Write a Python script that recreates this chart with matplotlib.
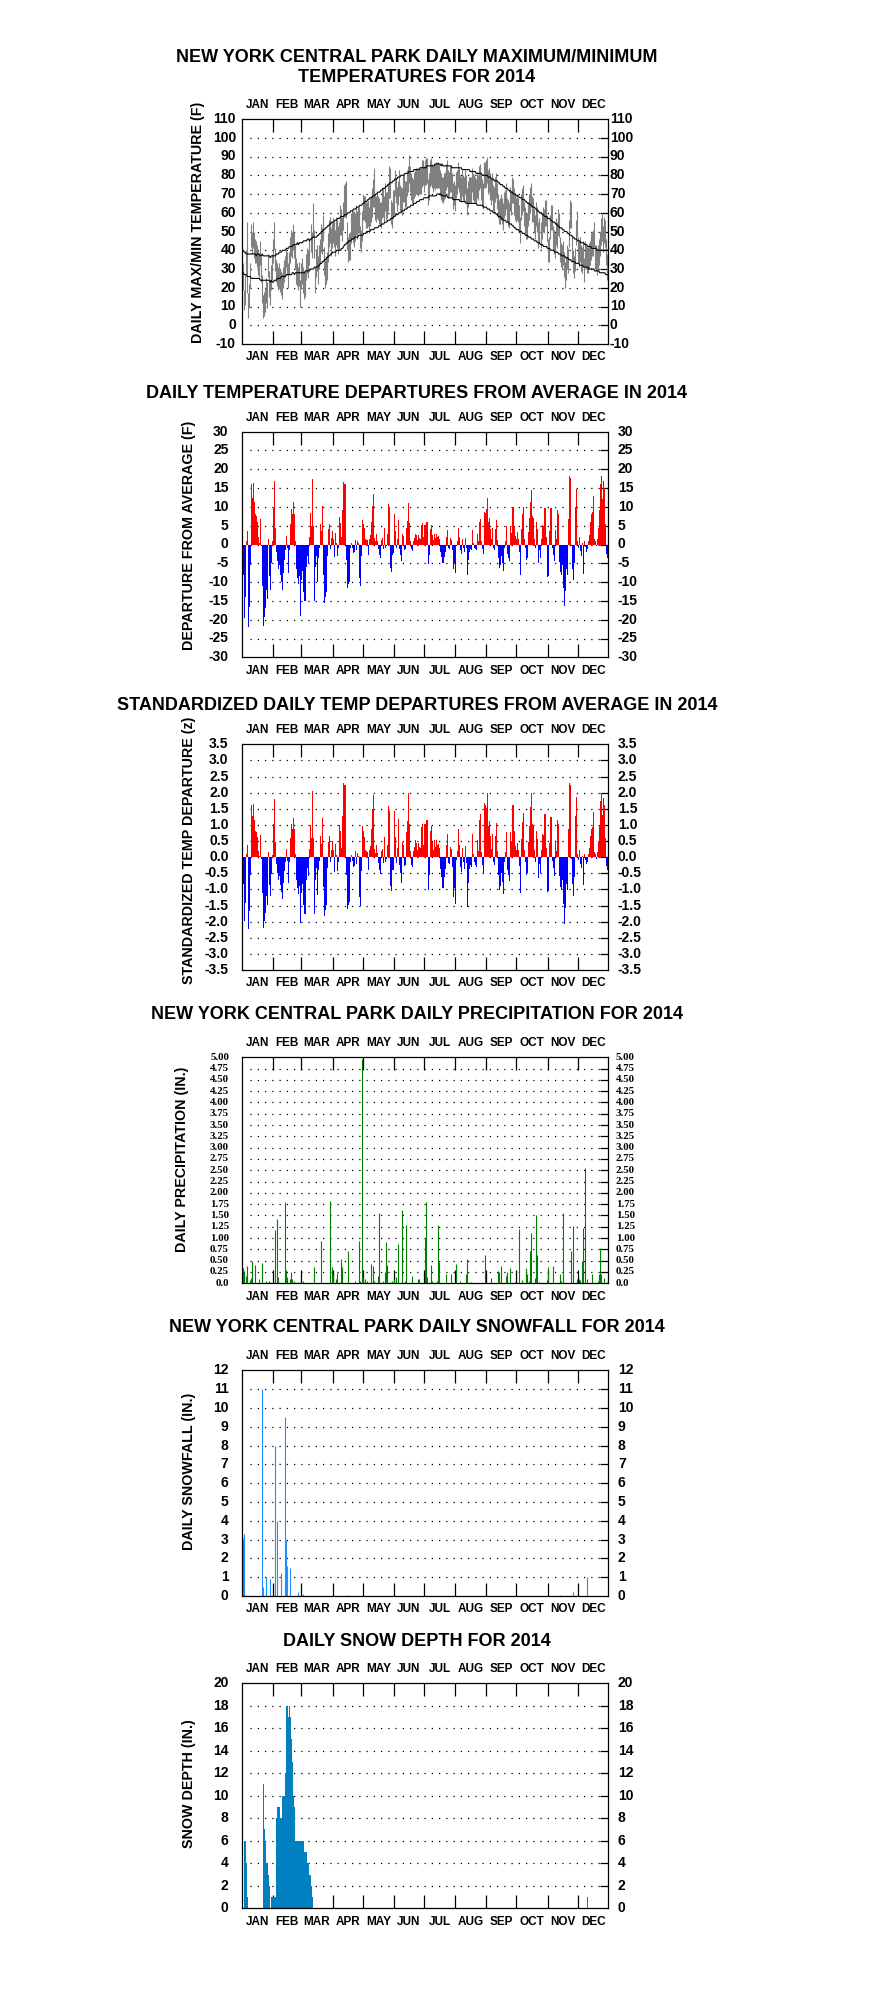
import matplotlib
matplotlib.use("Agg")
import matplotlib.pyplot as plt
from matplotlib.transforms import blended_transform_factory

# ---------------------------------------------------------------- data
months = ["JAN", "FEB", "MAR", "APR", "MAY", "JUN",
          "JUL", "AUG", "SEP", "OCT", "NOV", "DEC"]
month_start_doy = [1, 32, 60, 91, 121, 152, 182, 213, 244, 274, 305, 335]

# daily maximum temperature (F), Jan 1 .. Dec 31
tmax = [
    35,33,19,27,40,55,17,22,33,54,50,55,50,46,45,43,40,38,45,37,27,16,18,20,25,23,38,29,24,32,38,
    46,55,41,35,33,31,33,30,29,28,31,35,37,42,39,33,39,47,51,50,54,50,43,36,33,31,34,24,
    33,36,31,29,29,38,41,40,46,54,50,65,51,31,40,43,37,43,46,54,52,59,42,35,37,39,49,56,58,52,55,
    57,55,51,58,56,53,55,64,62,58,66,75,76,77,55,47,49,50,60,62,61,61,60,64,61,63,63,53,51,61,
    70,69,69,66,66,67,63,68,69,73,78,84,69,69,71,69,68,66,66,72,73,69,76,71,71,76,85,84,67,66,72,
    72,83,79,74,77,83,75,74,73,80,80,77,77,83,85,91,85,81,79,78,82,83,84,84,83,84,84,84,88,88,
    85,88,89,89,78,81,88,89,86,85,86,86,87,87,87,86,83,81,79,79,81,82,86,88,83,82,85,85,81,76,77,
    75,82,83,87,84,80,79,83,80,79,83,80,73,77,79,79,79,84,81,80,79,78,82,80,85,86,80,78,76,87,87,
    88,90,83,84,81,78,81,75,74,79,81,76,70,67,68,70,68,65,71,72,76,68,67,65,74,72,79,78,73,70,
    68,70,68,64,58,70,73,75,66,63,60,60,66,70,74,76,69,68,62,59,66,63,55,57,55,60,63,62,67,67,59,
    46,47,59,64,64,53,51,49,57,55,62,60,47,44,43,45,39,34,37,43,41,56,67,66,47,40,37,41,56,61,
    47,45,47,43,42,45,36,45,43,42,42,44,45,49,50,51,55,43,43,41,43,46,50,57,60,53,58,56,46,38,37,
]
# daily minimum temperature (F)
tmin = [
    22,19,8,11,27,17,4,9,20,42,38,41,36,33,33,31,27,26,32,23,12,4,5,7,12,9,26,15,11,19,24,
    33,40,29,23,21,19,20,18,16,14,20,23,26,31,27,20,27,33,37,36,40,36,30,22,21,19,21,10,
    20,22,17,14,15,24,28,25,32,39,36,47,36,17,26,29,22,30,33,39,38,45,27,20,22,24,34,42,44,37,41,
    44,42,37,43,41,38,40,48,48,45,51,58,58,57,40,34,35,35,44,46,44,42,45,48,46,49,49,41,39,45,
    56,56,55,52,52,53,49,53,55,58,63,63,56,55,57,56,54,53,52,57,58,55,61,56,57,61,68,68,54,52,57,
    59,69,65,61,64,69,61,61,59,66,66,63,63,69,71,76,71,67,65,64,68,69,70,70,69,70,70,70,74,75,
    71,75,75,76,64,67,74,75,73,71,73,72,73,73,73,73,69,67,66,65,67,68,72,74,68,69,71,71,68,62,64,
    61,68,70,73,71,67,66,69,67,66,70,66,59,63,65,66,65,71,67,66,66,65,68,67,72,73,67,64,62,73,73,
    74,76,70,71,67,64,67,61,60,66,68,62,57,54,54,56,54,51,57,59,62,55,53,52,61,59,65,65,59,56,
    55,56,55,50,44,56,59,61,53,49,46,46,53,56,60,63,55,55,49,46,53,50,41,44,41,46,50,49,53,53,45,
    34,34,46,51,51,40,38,36,43,41,48,47,34,31,30,32,26,20,24,30,28,42,52,52,34,28,25,29,43,47,
    33,31,34,29,28,32,23,31,30,28,28,30,32,35,37,37,42,30,29,27,29,32,37,43,45,39,44,42,32,24,23,
]
# normal daily high (F)
normal_high = [
    40,40,39,39,38,38,38,38,38,38,38,38,38,38,37,38,38,38,37,37,38,37,37,37,37,37,37,37,36,37,37,
    37,37,37,38,38,38,39,39,39,40,40,40,40,41,41,41,42,42,42,42,43,43,43,43,44,43,44,44,
    44,44,45,45,45,45,46,46,45,46,46,47,47,47,47,47,48,48,49,49,50,50,51,51,52,52,53,53,54,54,55,
    55,55,56,56,56,57,57,57,58,58,58,58,59,59,59,60,60,60,61,61,61,62,62,62,63,63,63,64,64,64,
    65,65,66,66,66,67,67,68,68,68,69,69,69,70,70,71,71,71,72,72,73,73,73,74,74,75,75,76,76,76,77,
    77,78,78,78,79,79,79,80,80,80,80,81,81,81,81,82,82,82,82,82,83,83,83,83,83,83,84,84,84,84,
    84,84,84,85,85,85,85,85,85,85,85,86,86,86,86,86,86,85,86,85,85,85,85,85,85,85,85,85,84,84,84,
    84,84,84,84,84,84,84,83,83,83,83,83,83,83,83,82,82,82,82,82,82,81,81,81,81,81,81,80,80,80,80,
    80,80,79,79,79,78,78,78,77,77,77,77,76,76,75,75,75,74,74,73,73,73,72,72,71,71,71,70,70,70,
    69,69,69,68,68,68,67,67,67,66,66,65,65,65,64,64,63,63,63,62,62,61,61,60,60,60,59,59,58,58,58,
    57,57,57,56,56,55,55,55,54,54,53,53,52,52,52,51,51,50,50,50,49,49,48,48,48,47,47,46,46,46,
    45,45,45,44,44,44,44,43,43,43,42,42,42,42,41,41,41,41,41,40,40,40,40,40,40,40,40,40,40,40,40,
]
# normal daily low (F)
normal_low = [
    28,28,27,27,27,26,26,26,26,25,25,25,25,25,25,25,25,25,24,24,24,24,24,24,24,24,24,24,23,24,23,
    23,24,24,24,25,25,25,25,26,26,26,26,26,27,27,27,27,27,27,28,28,27,28,28,28,28,28,28,
    28,28,28,28,29,29,29,29,29,30,30,30,30,31,31,31,31,32,32,33,33,34,34,35,35,36,36,37,37,38,38,
    39,39,39,39,40,40,40,40,40,41,41,42,43,43,44,44,45,45,45,46,46,46,47,47,47,47,48,48,48,48,
    48,49,49,49,50,50,50,50,51,51,51,51,52,52,52,52,53,53,53,54,54,54,55,55,55,56,56,56,57,57,57,
    58,58,59,59,59,60,60,60,61,61,61,62,62,62,63,63,63,64,64,64,65,65,65,66,66,66,67,67,67,67,
    68,68,68,68,68,69,69,69,69,69,69,69,69,70,70,70,70,70,69,69,69,69,69,69,68,68,68,68,68,67,67,
    67,67,67,67,67,66,66,66,66,66,66,65,65,65,65,65,65,65,65,65,65,65,64,64,64,64,64,64,63,63,63,
    63,62,62,62,61,61,61,60,60,60,59,59,58,58,58,57,57,56,56,56,55,55,55,54,54,54,53,53,52,52,
    51,51,51,50,50,50,49,49,49,48,48,48,47,47,47,46,46,46,45,45,45,44,44,44,43,43,43,42,42,42,42,
    41,41,41,40,40,40,40,39,39,39,39,38,38,38,37,37,37,37,36,36,36,35,35,35,34,34,34,34,33,33,
    33,33,32,32,32,32,31,31,31,31,31,30,30,30,30,30,30,29,29,29,29,29,28,28,28,28,28,28,27,27,27,
]
# daily mean temperature departure from average (F)
departure = [
    -5.5,-8,-19.5,-14,1,3.7,-22,-16.5,-5.5,16,12.5,16.3,11.2,8,7.7,6,2,0.5,6.8,-0.5,-11,-21.7,-19.3,-17,-12,-14.5,1.5,-8.5,-12,-5,0.8,
    9.6,16.8,4.3,-2,-4.5,-6.5,-5.5,-8,-10,-12,-7.5,-4,-1.5,2.3,-1,-7.5,-1.5,5.5,9.5,8,11.3,8.2,0.8,-6.5,-9,-10.5,-8.5,-19,
    -9.5,-7,-12.5,-15,-15,-6,-3,-5,2,8.5,5,17.3,5,-15,-6,-3,-10,-3.5,-1,5.5,3.5,10.2,-8,-15.5,-14,-12.5,-3,4,5.5,-1.3,1.8,
    3.5,1.5,-3.3,3,0.5,-3,-1,7.3,5.8,2,9.3,16.6,16.1,16.1,-4,-11.5,-10.6,-10,-1,0.5,-0.8,-2.3,-2,1.3,-1.5,1,0.3,-9,-11,-3,
    6.6,5.5,4.4,1.5,1.3,1.2,-2.7,1.5,2.5,6,10.2,13.3,1.8,1,2.7,0.8,-1.3,-2.7,-3.5,1.3,1.8,-1.3,4.4,-1,-0.5,2.7,10.9,9.9,-6.2,-7.3,-2.7,
    -2.2,8,3.5,-1,1.5,6.6,-1.3,-2.7,-4.4,2.7,2.2,-1.5,-1.3,4.4,6.2,11.1,5.8,1,-1.3,-1.8,1,1.8,2.9,2.5,1.3,2.5,1.8,1.5,5.3,5.8,
    2,5.3,6,6,-5.3,-2.8,4.2,5.1,2.5,1.2,2.7,1.6,2.7,2,2.2,1.5,-2,-3.3,-5,-5,-3.3,-2,2,3.8,-0.9,-1.1,1.6,1.3,-1.5,-6.4,-5,
    -7.6,-0.5,1,4.5,2,-1.5,-2.4,1.5,-0.8,-2,1.8,-1,-8.1,-4.2,-2,-1.2,-1.5,3.8,0.5,-0.8,-1.2,-1.5,2.7,1,6,6.9,0.8,-1.3,-2.5,8.7,8.5,
    9.5,12.3,6,7,4,1.5,4.5,-1,-1.5,4,6.5,1.2,-3.5,-6.3,-5.5,-3,-4.8,-7,-1,1,4.8,-2.5,-3.5,-4.5,4.8,3,10,10,5,2.2,
    1.5,3.2,1.5,-2,-8,4,8,10,1.5,-1,-4,-3.6,3.4,7,11.3,14.5,7.5,7,1.5,-1,6,4,-4.8,-1.5,-3.5,1.5,5.3,5,9.8,9.8,2,
    -8.6,-8.3,3.5,9.8,9.8,-1,-2.7,-4.5,3.8,1.5,9.1,8.2,-4.6,-7.3,-8.1,-5.5,-11.5,-16.3,-12.4,-6.5,-8,6.9,18.1,17.7,-0.5,-6.5,-9.5,-5,10,14.7,
    1,-0.8,2,-1.8,-3,0.5,-7.8,1,-0.7,-2,-1.3,1,2.5,6,8,8.7,13,1.5,1,-0.5,1.5,4.5,9.3,16,18.3,12,17,15,5.5,-2.5,-3.7,
]
# standardized daily departure (z)
zscore = [
    -0.56,-0.82,-1.99,-1.43,0.10,0.38,-2.24,-1.68,-0.56,1.63,1.28,1.66,1.14,0.82,0.79,0.61,0.20,0.05,0.69,-0.05,-1.12,-2.21,-1.97,-1.73,-1.22,-1.48,0.15,-0.87,-1.22,-0.51,0.08,
    1.03,1.81,0.46,-0.22,-0.48,-0.70,-0.59,-0.86,-1.08,-1.29,-0.81,-0.43,-0.16,0.25,-0.11,-0.81,-0.16,0.59,1.02,0.86,1.22,0.88,0.09,-0.70,-0.97,-1.13,-0.91,-2.04,
    -1.12,-0.82,-1.47,-1.76,-1.76,-0.71,-0.35,-0.59,0.24,1.00,0.59,2.04,0.59,-1.76,-0.71,-0.35,-1.18,-0.41,-0.12,0.65,0.41,1.20,-0.94,-1.82,-1.65,-1.47,-0.35,0.47,0.65,-0.15,0.21,
    0.49,0.21,-0.46,0.42,0.07,-0.42,-0.14,1.01,0.81,0.28,1.29,2.31,2.24,2.24,-0.56,-1.60,-1.47,-1.39,-0.14,0.07,-0.11,-0.32,-0.28,0.18,-0.21,0.14,0.04,-1.25,-1.53,-0.42,
    0.96,0.80,0.64,0.22,0.19,0.17,-0.39,0.22,0.36,0.87,1.48,1.93,0.26,0.14,0.39,0.12,-0.19,-0.39,-0.51,0.19,0.26,-0.19,0.64,-0.14,-0.07,0.39,1.58,1.43,-0.90,-1.06,-0.39,
    -0.39,1.43,0.63,-0.18,0.27,1.18,-0.23,-0.48,-0.79,0.48,0.39,-0.27,-0.23,0.79,1.11,1.98,1.04,0.18,-0.23,-0.32,0.18,0.32,0.52,0.45,0.23,0.45,0.32,0.27,0.95,1.04,
    0.38,1.02,1.15,1.15,-1.02,-0.54,0.81,0.98,0.48,0.23,0.52,0.31,0.52,0.38,0.42,0.29,-0.38,-0.63,-0.96,-0.96,-0.63,-0.38,0.38,0.73,-0.17,-0.21,0.31,0.25,-0.29,-1.23,-0.96,
    -1.46,-0.10,0.19,0.87,0.38,-0.29,-0.46,0.29,-0.15,-0.38,0.35,-0.19,-1.56,-0.81,-0.38,-0.23,-0.29,0.73,0.10,-0.15,-0.23,-0.29,0.52,0.19,1.15,1.33,0.15,-0.25,-0.48,1.67,1.63,
    1.53,1.98,0.97,1.13,0.65,0.24,0.73,-0.16,-0.24,0.65,1.05,0.19,-0.56,-1.02,-0.89,-0.48,-0.77,-1.13,-0.16,0.16,0.77,-0.40,-0.56,-0.73,0.77,0.48,1.61,1.61,0.81,0.35,
    0.21,0.44,0.21,-0.27,-1.10,0.55,1.10,1.37,0.21,-0.14,-0.55,-0.49,0.47,0.96,1.55,1.99,1.03,0.96,0.21,-0.14,0.82,0.55,-0.66,-0.21,-0.48,0.21,0.73,0.68,1.34,1.34,0.27,
    -1.09,-1.05,0.44,1.24,1.24,-0.13,-0.34,-0.57,0.48,0.19,1.15,1.04,-0.58,-0.92,-1.03,-0.70,-1.46,-2.06,-1.57,-0.82,-1.01,0.87,2.29,2.24,-0.06,-0.82,-1.20,-0.63,1.27,1.86,
    0.11,-0.09,0.22,-0.20,-0.33,0.05,-0.85,0.11,-0.08,-0.22,-0.14,0.11,0.27,0.65,0.87,0.95,1.41,0.16,0.11,-0.05,0.16,0.49,1.01,1.74,1.99,1.30,1.85,1.63,0.60,-0.27,-0.40,
]
# daily precipitation (in.) on days with a measurable amount (day of year)
precip_doy = [2,3,5,6,9,10,11,14,18,21,25,28,29,34,36,37,44,45,46,49,50,51,53,57,62,72,79,88,90,91,
              94,95,99,100,106,113,117,118,120,121,123,125,129,131,132,136,137,141,143,144,145,148,150,
              152,154,156,160,163,164,170,176,177,183,184,185,189,190,195,196,197,204,209,214,218,224,
              225,229,243,249,256,257,259,264,265,268,273,277,280,284,285,287,288,289,293,294,295,297,
              304,305,310,317,318,320,328,330,334,336,337,339,340,342,344,349,355,356,357,358,361,364]
precip_in = [0.33,0.28,0.17,0.38,0.08,0.12,0.50,0.40,0.10,0.46,0.05,0.05,0.03,1.17,1.43,0.15,1.80,0.30,0.15,0.10,0.25,0.10,0.06,0.03,0.05,0.35,0.93,1.82,0.35,0.18,
             0.10,0.22,0.53,0.35,0.71,0.05,0.93,0.05,4.97,0.15,0.10,0.05,0.42,0.38,0.05,0.17,1.55,0.05,0.25,0.92,0.40,0.03,0.05,
             0.10,0.14,0.88,1.62,0.05,1.28,0.16,0.10,0.10,1.00,1.80,0.15,0.40,0.05,0.05,1.30,0.47,0.20,0.20,0.43,0.05,0.20,
             0.53,0.03,0.62,0.12,0.27,0.25,0.38,0.16,0.25,0.33,0.03,1.20,0.08,0.33,0.20,0.05,0.72,1.11,0.12,1.52,0.62,0.03,
             0.08,0.35,0.38,0.21,0.05,1.55,0.72,1.26,0.10,0.10,0.08,0.50,1.23,2.54,0.10,0.21,0.05,0.20,0.79,0.20,0.12,0.03]
# daily snowfall (in.)
snowfall_doy = [2, 3, 5, 21, 22, 25, 29, 34, 36, 40, 44, 45, 46, 49, 57, 62, 70, 91, 106, 317, 330, 344, 355]
snowfall_in = [3.1, 3.3, 0.05, 11.0, 0.5, 1.0, 0.9, 8.0, 4.0, 1.2, 9.5, 3.0, 1.6, 1.5, 0.2, 0.1, 0.02, 0.02, 0.05, 0.05, 0.2, 1.0, 0.02]
# daily snow depth (in.)
snow_depth_doy = [3, 4, 5, 6, 22, 23, 24, 25, 26, 27, 28, 30, 31, 32, 33, 34, 35, 36, 37, 38, 39, 40, 41, 42, 43,
                  44, 45, 46, 47, 48, 49, 50, 51, 52, 53, 54, 55, 56, 57, 58, 59, 60, 61, 62, 63, 64, 65, 66, 67,
                  68, 69, 70, 71, 345]
snow_depth_in = [6, 6, 4, 1, 11, 7, 6, 4, 4, 3, 2, 1, 1, 1, 1, 1, 8, 9, 9, 9, 8, 8, 10, 10, 10,
                 12, 18, 18, 17, 18, 17, 15, 13, 10, 9, 6, 6, 6, 6, 6, 6, 6, 6, 6, 5, 5, 5, 4, 4,
                 3, 3, 2, 1, 1]

yt_temp = [-10, 0, 10, 20, 30, 40, 50, 60, 70, 80, 90, 100, 110]
yt_dep = [-30, -25, -20, -15, -10, -5, 0, 5, 10, 15, 20, 25, 30]
yt_z = [-3.5, -3.0, -2.5, -2.0, -1.5, -1.0, -0.5, 0.0, 0.5, 1.0, 1.5, 2.0, 2.5, 3.0, 3.5]
yt_z_lab = ["-3.5", "-3.0", "-2.5", "-2.0", "-1.5", "-1.0", "-0.5", "0.0",
            "0.5", "1.0", "1.5", "2.0", "2.5", "3.0", "3.5"]
yt_pcp = [0, 0.25, 0.5, 0.75, 1.0, 1.25, 1.5, 1.75, 2.0, 2.25, 2.5, 2.75, 3.0,
          3.25, 3.5, 3.75, 4.0, 4.25, 4.5, 4.75, 5.0]
yt_pcp_lab = ["0.0", "0.25", "0.50", "0.75", "1.00", "1.25", "1.50", "1.75", "2.00", "2.25",
              "2.50", "2.75", "3.00", "3.25", "3.50", "3.75", "4.00", "4.25", "4.50", "4.75", "5.00"]
yt_snow = [0, 1, 2, 3, 4, 5, 6, 7, 8, 9, 10, 11, 12]
yt_depth = [0, 2, 4, 6, 8, 10, 12, 14, 16, 18, 20]

for series in (tmax, tmin, normal_high, normal_low, departure, zscore):
    assert len(series) == 365, len(series)
assert len(precip_doy) == len(precip_in)
assert len(snowfall_doy) == len(snowfall_in)
assert len(snow_depth_doy) == len(snow_depth_in)

# ---------------------------------------------------------------- figure
SANS = ["Liberation Sans", "DejaVu Sans"]
SERIF = ["Liberation Serif", "DejaVu Serif"]
plt.rcParams["font.family"] = SANS
plt.rcParams["font.weight"] = "bold"

W, H = 883, 1989
fig = plt.figure(figsize=(W / 100, H / 100), dpi=100)
fig.patch.set_facecolor("white")

AX_L, AX_R = 241.7, 608.3
days = list(range(1, 366))


def make_axes(top, bottom):
    return fig.add_axes([AX_L / W, 1 - bottom / H, (AX_R - AX_L) / W, (bottom - top) / H])


def style_axes(ax, yticks, ylabels, left_edge=228.5, right_start=618.0,
               fontfam=SANS, tick_fs=10):
    ax.set_xlim(0.5, 365.5)
    ax.set_ylim(yticks[0], yticks[-1])
    for s in ax.spines.values():
        s.set_linewidth(0.9)
        s.set_color("black")
    ax.set_xticks(month_start_doy[1:])
    ax.tick_params(axis="x", direction="in", top=True, bottom=True, length=9.4,
                   width=0.9, labelbottom=False, labeltop=False)
    ax.set_yticks(yticks[1:-1])
    ax.tick_params(axis="y", direction="in", left=False, right=True, length=5.8,
                   width=0.9, labelleft=False, labelright=False)
    for y in yticks[1:-1]:
        ax.plot([9, 357], [y, y], color="black", lw=0.9, ls=(0, (1, 4.8)),
                zorder=0.5, solid_capstyle="butt")
    # y tick labels on both sides
    axw = AX_R - AX_L
    tr = blended_transform_factory(ax.transAxes, ax.transData)
    for y, lab in zip(yticks, ylabels):
        ax.text(-(AX_L - left_edge) / axw, y, lab, transform=tr, ha="right", va="center",
                fontsize=tick_fs, fontweight="bold", family=fontfam, clip_on=False)
        ax.text(1 + (right_start - AX_R) / axw, y, lab, transform=tr, ha="left", va="center",
                fontsize=tick_fs, fontweight="bold", family=fontfam, clip_on=False)
    # month labels above and below
    trx = blended_transform_factory(ax.transData, ax.transAxes)
    bounds = month_start_doy + [366]
    pos = ax.get_position()
    hpx = pos.height * H
    for i, m in enumerate(months):
        xc = (bounds[i] + bounds[i + 1]) / 2.0
        ax.text(xc, 1 + 14.0 / hpx, m, transform=trx, ha="center", va="center",
                fontsize=8.5, fontweight="bold", clip_on=False)
        ax.text(xc, -13.3 / hpx, m, transform=trx, ha="center", va="center",
                fontsize=8.5, fontweight="bold", clip_on=False)


def fig_text(x, y, s, **kw):
    fig.text(x / W, 1 - y / H, s, ha="center", va="center", fontweight="bold", **kw)


TITLE_X = 417
YLAB_FS = 10.3

# ---- panel 1 : daily max / min temperatures
ax1 = make_axes(119, 344)
ax1.vlines(days, tmin, tmax, color="#808080", lw=0.8, zorder=2)
ax1.plot(days, normal_high, color="black", lw=0.8, zorder=3)
ax1.plot(days, normal_low, color="black", lw=0.8, zorder=3)
style_axes(ax1, yt_temp, [str(v) for v in yt_temp], left_edge=236, right_start=610)
fig_text(TITLE_X, 57, "NEW YORK CENTRAL PARK DAILY MAXIMUM/MINIMUM", fontsize=13)
fig_text(TITLE_X, 77, "TEMPERATURES FOR 2014", fontsize=13)
fig_text(198, 222, "DAILY MAX/MIN TEMPERATURE (F)", fontsize=YLAB_FS, rotation=90)

# ---- panel 2 : departures
ax2 = make_axes(431.7, 657.3)
cols = ["#FF0000" if v >= 0 else "#0000FF" for v in departure]
ax2.bar(days, departure, width=1.0, color=cols, linewidth=0, zorder=2)
style_axes(ax2, yt_dep, [str(v) for v in yt_dep])
fig_text(TITLE_X, 393, "DAILY TEMPERATURE DEPARTURES FROM AVERAGE IN 2014", fontsize=13)
fig_text(189, 535, "DEPARTURE FROM AVERAGE (F)", fontsize=YLAB_FS, rotation=90)

# ---- panel 3 : standardized departures
ax3 = make_axes(744.3, 970)
cols = ["#FF0000" if v >= 0 else "#0000FF" for v in zscore]
ax3.bar(days, zscore, width=1.0, color=cols, linewidth=0, zorder=2)
style_axes(ax3, yt_z, yt_z_lab)
fig_text(TITLE_X, 705, "STANDARDIZED DAILY TEMP DEPARTURES FROM AVERAGE IN 2014", fontsize=13)
fig_text(189, 850, "STANDARDIZED TEMP DEPARTURE (z)", fontsize=YLAB_FS, rotation=90)

# ---- panel 4 : precipitation
ax4 = make_axes(1057.3, 1283.3)
ax4.vlines(precip_doy, 0, precip_in, color="#008000", lw=0.8, zorder=2)
style_axes(ax4, yt_pcp, yt_pcp_lab, left_edge=229, right_start=616,
           fontfam=SERIF, tick_fs=7.8)
fig_text(TITLE_X, 1015, "NEW YORK CENTRAL PARK DAILY PRECIPITATION FOR 2014", fontsize=13)
fig_text(182, 1159, "DAILY PRECIPITATION (IN.)", fontsize=YLAB_FS, rotation=90)

# ---- panel 5 : snowfall
ax5 = make_axes(1370.3, 1596)
ax5.vlines(snowfall_doy, 0, snowfall_in, color="#1E8FFF", lw=0.8, zorder=2)
style_axes(ax5, yt_snow, [str(v) for v in yt_snow])
fig_text(TITLE_X, 1327, "NEW YORK CENTRAL PARK DAILY SNOWFALL FOR 2014", fontsize=13)
fig_text(189, 1471, "DAILY SNOWFALL (IN.)", fontsize=YLAB_FS, rotation=90)

# ---- panel 6 : snow depth
ax6 = make_axes(1683, 1908.3)
ax6.bar(snow_depth_doy, snow_depth_in, width=1.0, color="#0080C0", linewidth=0, zorder=2)
style_axes(ax6, yt_depth, [str(v) for v in yt_depth])
fig_text(TITLE_X, 1641, "DAILY SNOW DEPTH FOR 2014", fontsize=13)
fig_text(189, 1784, "SNOW DEPTH (IN.)", fontsize=YLAB_FS, rotation=90)

fig.savefig("out.png", dpi=100, facecolor="white")
